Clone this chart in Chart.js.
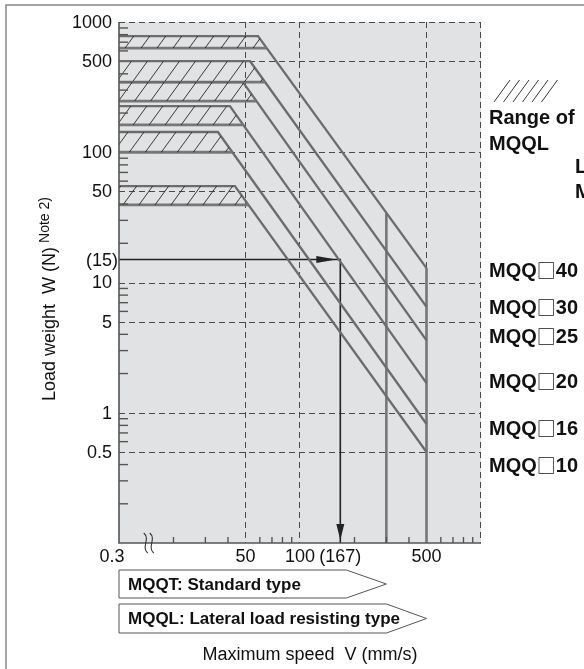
<!DOCTYPE html>
<html>
<head>
<meta charset="utf-8">
<script src="https://cdn.jsdelivr.net/npm/chart.js@4.4.1/dist/chart.umd.min.js"></script>
<style>
  html, body { margin: 0; padding: 0; background: #fff; }
  canvas { display: block; }
</style>
</head>
<body>
<canvas id="speedChart" width="584" height="669"></canvas>
<script>
// values (N, mm/s)
const models = ['MQQ□10', 'MQQ□16', 'MQQ□20', 'MQQ□25', 'MQQ□30', 'MQQ□40'];
const lateralLoad = [55, 143, 226, 346, 500, 780];      // MQQL max load
const standardLoad = [39.4, 100, 162, 247, 346, 631];   // MQQT max load
const kneeSpeed = [43.7, 35.2, 41, 48.4, 53, 58.6];     // start of sloped part
const standardEnd = [52, 42, 48.5, 57.5, 64, 65.7];     // MQQT line meets slope
const loadAt500 = [0.5, 0.82, 1.69, 3.6, 6.5, 12.9];

const limitSpeeds = [300, 500];
const limitLoads = [34, 12.9];
const exampleSpeed = 167;
const exampleLoad = 15;

const yLabels = [1000, 500, 100, 50, 10, 5, 1, 0.5];
const yGrid = [1000, 500, 100, 50, 10, 5, 1, 0.5];
const xLabels = [50, 100, 500];
const xGrid = [50, 100, 500, 1000];
const minorSteps = [2, 3, 4, 6, 7, 8, 9];

const FONT = "'Liberation Sans', Arial, sans-serif";
const BOX_FONT = "'Noto Sans CJK JP', 'DejaVu Sans', sans-serif";
const LINE_GRAY = '#6c6c6c';

function makeHatch() {
    const c = document.createElement('canvas');
    c.width = 16; c.height = 22;
    const g = c.getContext('2d');
    g.strokeStyle = '#262626';
    g.lineWidth = 0.9;
    g.beginPath();
    [-16, 0, 16].forEach(dx => { g.moveTo(dx, 22); g.lineTo(dx + 16, 0); });
    g.stroke();
    return g.createPattern(c, 'repeat');
}
const hatch = makeHatch();

const datasets = [];
models.forEach((m, i) => {
    const stdIndex = datasets.length + 1;
    datasets.push({
        label: m + ' MQQL range',
        data: [{x: 10, y: lateralLoad[i]}, {x: kneeSpeed[i], y: lateralLoad[i]}, {x: standardEnd[i], y: standardLoad[i]}],
        borderWidth: 0,
        backgroundColor: hatch,
        fill: {target: stdIndex},
        pointRadius: 0
    });
    datasets.push({
        label: m + ' MQQT',
        data: [{x: 10, y: standardLoad[i]}, {x: standardEnd[i], y: standardLoad[i]}],
        borderColor: '#777',
        borderWidth: 2.8,
        fill: false,
        pointRadius: 0
    });
    datasets.push({
        label: m,
        data: [{x: 10, y: lateralLoad[i]}, {x: kneeSpeed[i], y: lateralLoad[i]}, {x: 500, y: loadAt500[i]}],
        borderColor: LINE_GRAY,
        borderWidth: 2.3,
        fill: false,
        pointRadius: 0
    });
});
limitSpeeds.forEach((v, i) => {
    datasets.push({
        label: 'limit ' + v,
        data: [{x: v, y: limitLoads[i]}, {x: v, y: 0.1}],
        borderColor: '#777',
        borderWidth: 2.6,
        fill: false,
        pointRadius: 0
    });
});
datasets.push({
    label: 'example',
    data: [{x: 10, y: exampleLoad}, {x: exampleSpeed, y: exampleLoad}, {x: exampleSpeed, y: 0.1}],
    borderColor: '#222',
    borderWidth: 1.6,
    fill: false,
    pointRadius: 0
});

function line(ctx, x1, y1, x2, y2) {
    ctx.beginPath();
    ctx.moveTo(x1, y1);
    ctx.lineTo(x2, y2);
    ctx.stroke();
}

// draws "MQQ□40" with the square taken from a font that has a full-size one
function modelLabel(ctx, text, x, y) {
    const parts = text.split('□');
    ctx.font = 'bold 20px ' + FONT;
    ctx.fillText(parts[0], x, y);
    let cx = x + ctx.measureText(parts[0]).width;
    ctx.font = '19px ' + BOX_FONT;
    ctx.fillText('□', cx, y);
    cx += ctx.measureText('□').width;
    ctx.font = 'bold 20px ' + FONT;
    ctx.fillText(parts[1], cx, y);
}

const decor = {
    id: 'decor',
    beforeDraw(chart) {
        const {ctx, chartArea: a} = chart;
        ctx.save();
        ctx.fillStyle = '#e1e2e4';
        ctx.fillRect(a.left, a.top, a.right - a.left, a.bottom - a.top);
        ctx.restore();
    },
    beforeDatasetsDraw(chart) {
        const {ctx, chartArea: a, scales: {x, y}} = chart;
        ctx.save();
        ctx.strokeStyle = '#4a4a4a';
        ctx.lineWidth = 1;
        ctx.setLineDash([6, 4]);
        yGrid.forEach(v => { const p = Math.round(y.getPixelForValue(v)) + 0.5; line(ctx, a.left, p, a.right, p); });
        xGrid.forEach(v => { const p = Math.round(x.getPixelForValue(v)) - 0.5; line(ctx, p, a.top, p, a.bottom); });
        ctx.restore();
    },
    afterDatasetsDraw(chart) {
        const {ctx, chartArea: a, scales: {x, y}} = chart;
        ctx.save();

        // solid axes
        ctx.strokeStyle = '#555';
        ctx.lineWidth = 1.6;
        ctx.beginPath();
        ctx.moveTo(a.left, a.top);
        ctx.lineTo(a.left, a.bottom);
        ctx.lineTo(a.right, a.bottom);
        ctx.stroke();

        // minor ticks
        ctx.lineWidth = 1.4;
        [0.1, 1, 10, 100].forEach(d => minorSteps.forEach(s => {
            const p = y.getPixelForValue(d * s);
            line(ctx, a.left, p, a.left + 9, p);
        }));
        [10, 100].forEach(d => minorSteps.forEach(s => {
            const p = x.getPixelForValue(d * s);
            line(ctx, p, a.bottom, p, a.bottom - 6);
        }));

        // axis break mark
        ctx.strokeStyle = '#333';
        ctx.lineWidth = 1.1;
        const bx = x.getPixelForValue(14.6);
        [-3, 3].forEach(o => {
            ctx.beginPath();
            ctx.moveTo(bx + o - 2, a.bottom - 10);
            ctx.bezierCurveTo(bx + o + 5, a.bottom - 4, bx + o - 5, a.bottom + 4, bx + o + 2, a.bottom + 10);
            ctx.stroke();
        });

        // example arrows
        const ex = x.getPixelForValue(exampleSpeed);
        const ey = y.getPixelForValue(exampleLoad);
        ctx.fillStyle = '#222';
        ctx.beginPath();
        ctx.moveTo(ex - 4, ey);
        ctx.lineTo(ex - 24, ey - 3.5);
        ctx.lineTo(ex - 24, ey + 3.5);
        ctx.closePath();
        ctx.fill();
        ctx.beginPath();
        ctx.moveTo(ex, a.bottom - 3);
        ctx.lineTo(ex - 4, a.bottom - 19);
        ctx.lineTo(ex + 4, a.bottom - 19);
        ctx.closePath();
        ctx.fill();

        // tick labels
        ctx.fillStyle = '#111';
        ctx.font = '18px ' + FONT;
        ctx.textAlign = 'right';
        ctx.textBaseline = 'middle';
        yLabels.forEach(v => ctx.fillText(String(v), a.left - 7, y.getPixelForValue(v) + 1));
        ctx.fillText('(' + exampleLoad + ')', a.left - 1, ey + 1);
        ctx.textAlign = 'center';
        ctx.fillText('0.3', a.left - 7, a.bottom + 14);
        xLabels.forEach(v => ctx.fillText(String(v), x.getPixelForValue(v), a.bottom + 14));
        ctx.fillText('(' + exampleSpeed + ')', ex, a.bottom + 14);

        // axis titles
        ctx.fillText('Maximum speed  V (mm/s)', 310, 655);
        ctx.save();
        ctx.translate(50, 401);
        ctx.rotate(-Math.PI / 2);
        ctx.textAlign = 'left';
        ctx.fillText('Load weight  W (N)', 0, 0);
        const tw = ctx.measureText('Load weight  W (N)').width;
        ctx.font = '14px ' + FONT;
        ctx.fillText('Note 2)', tw + 4, -5);
        ctx.restore();

        // model labels
        ctx.textAlign = 'left';
        const labelY = [466, 429, 382, 337, 308, 271];
        models.forEach((m, i) => modelLabel(ctx, m, 489, labelY[i]));
        ctx.font = 'bold 20px ' + FONT;
        ctx.fillText('Range of', 489, 118);
        ctx.fillText('MQQL', 489, 144);
        ctx.fillText('L', 575, 167);
        ctx.fillText('M', 575, 192);

        // hatch legend
        ctx.strokeStyle = '#222';
        ctx.lineWidth = 0.9;
        for (let k = 0; k < 6; k++) {
            const sx = 494 + k * 9.5;
            line(ctx, sx, 102, sx + 16, 80);
        }

        // type arrows
        const boxes = [
            {text: 'MQQT: Standard type', tip: x.getPixelForValue(limitSpeeds[0]), top: 570, bottom: 598},
            {text: 'MQQL: Lateral load resisting type', tip: x.getPixelForValue(limitSpeeds[1]), top: 604, bottom: 633}
        ];
        ctx.font = 'bold 17px ' + FONT;
        boxes.forEach(b => {
            ctx.beginPath();
            ctx.moveTo(a.left, b.top);
            ctx.lineTo(b.tip - 40, b.top);
            ctx.lineTo(b.tip, (b.top + b.bottom) / 2);
            ctx.lineTo(b.tip - 40, b.bottom);
            ctx.lineTo(a.left, b.bottom);
            ctx.closePath();
            ctx.fillStyle = '#fff';
            ctx.fill();
            ctx.strokeStyle = '#555';
            ctx.lineWidth = 1;
            ctx.stroke();
            ctx.fillStyle = '#111';
            ctx.fillText(b.text, a.left + 9, (b.top + b.bottom) / 2 + 1);
        });

        // outer frame
        ctx.strokeStyle = '#888';
        ctx.lineWidth = 1.5;
        ctx.beginPath();
        ctx.moveTo(6, 669);
        ctx.lineTo(6, 5);
        ctx.lineTo(584, 5);
        ctx.stroke();

        ctx.restore();
    }
};

new Chart(document.getElementById('speedChart'), {
    type: 'line',
    data: {datasets},
    options: {
        responsive: false,
        animation: false,
        layout: {padding: {left: 119, right: 103, top: 22, bottom: 126}},
        plugins: {legend: {display: false}, tooltip: {enabled: false}},
        elements: {line: {tension: 0}},
        scales: {
            x: {type: 'logarithmic', min: 10, max: 1000, display: false},
            y: {type: 'logarithmic', min: 0.1, max: 1000, display: false}
        }
    },
    plugins: [decor]
});
</script>
</body>
</html>
